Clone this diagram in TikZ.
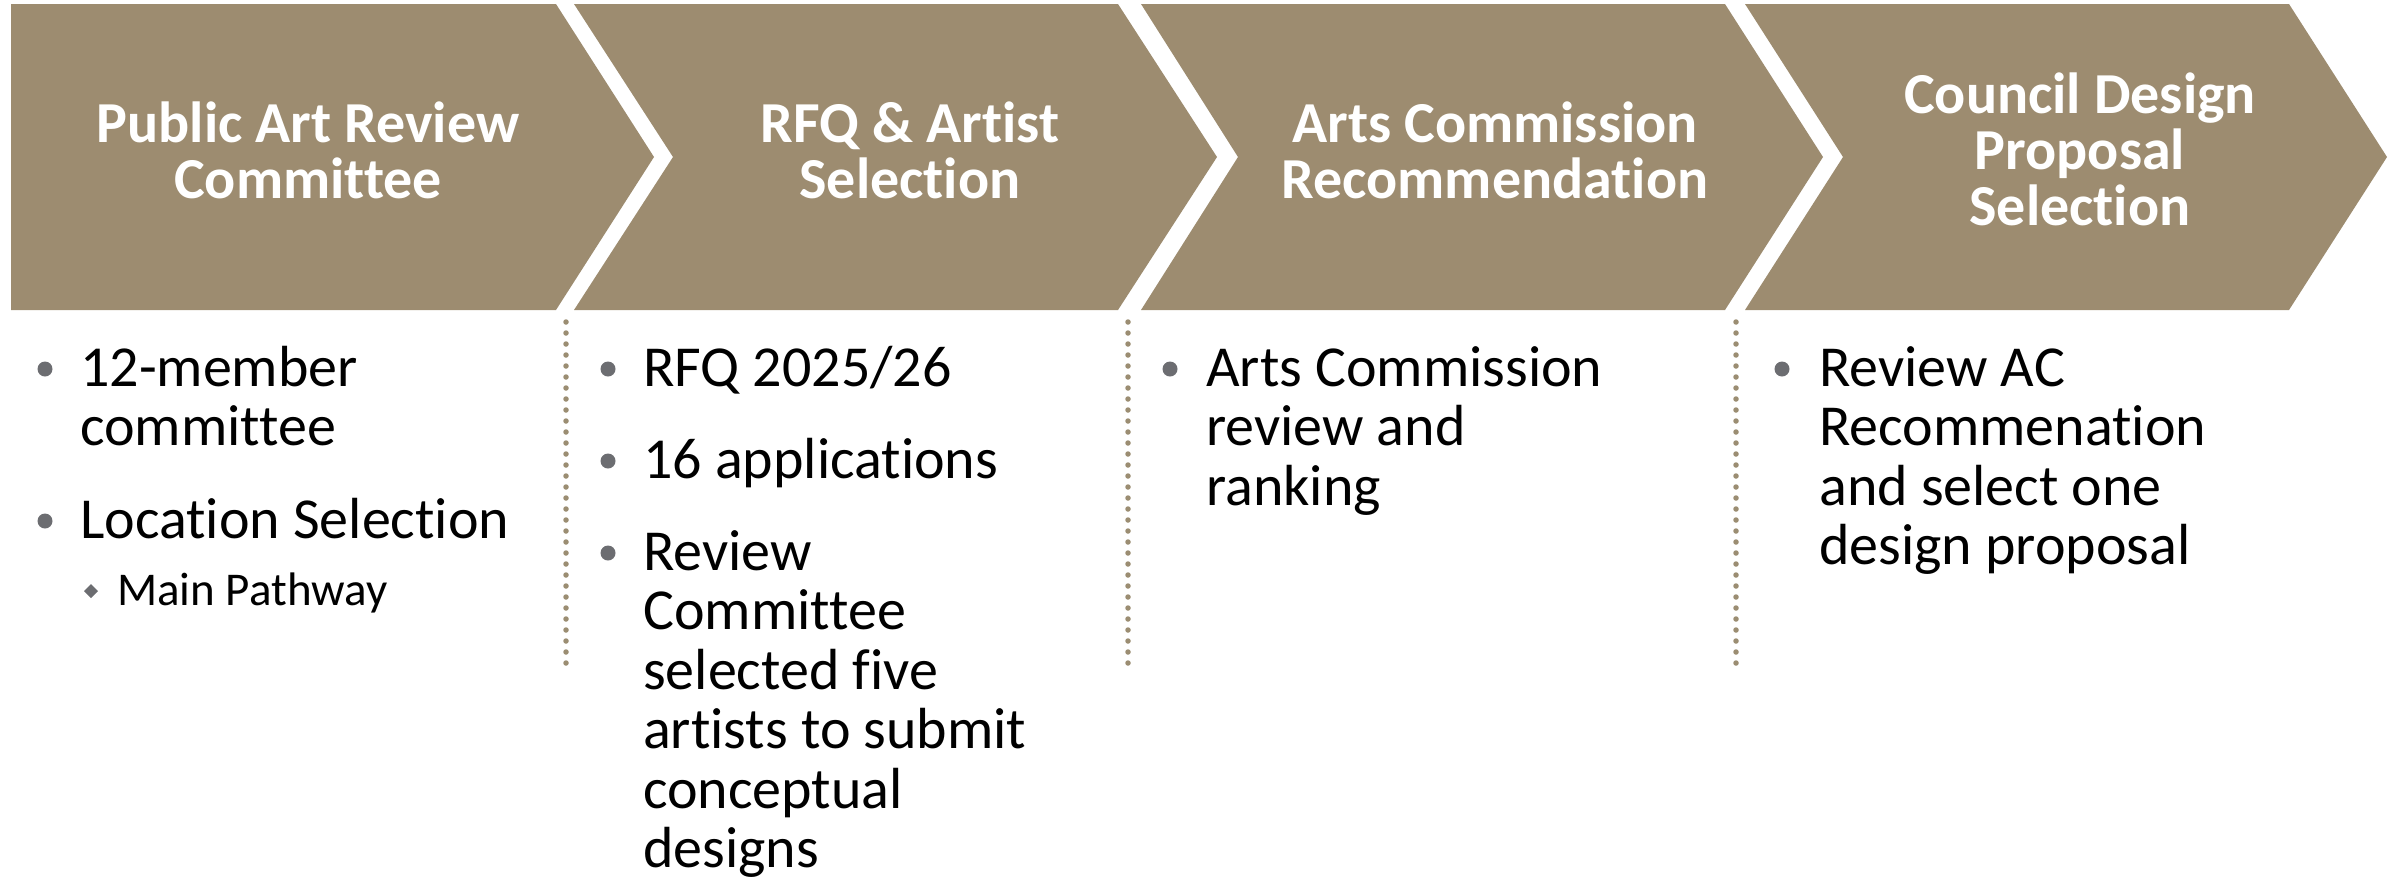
\documentclass[tikz,border=0pt]{standalone}
\usepackage{fontspec}
\setmainfont{Carlito}[Ligatures=NoCommon]
\definecolor{chev}{RGB}{157,140,112}
\definecolor{dotc}{RGB}{155,141,114}
\definecolor{bul}{RGB}{108,109,113}
\tikzset{
  chevron/.style={fill=chev, draw=none},
  head/.style={text=white, font=\fontsize{58}{57}\selectfont\bfseries, inner sep=0pt, anchor=base},
  body/.style={text=black, font=\fontsize{58}{59.5}\selectfont, inner sep=0pt, anchor=base west},
  subbody/.style={text=black, font=\fontsize{47}{50}\selectfont, inner sep=0pt, anchor=base west},
  bulletdot/.style={fill=bul, draw=none},
  sep/.style={draw=dotc, line width=5.5pt, line cap=round, dash pattern=on 0pt off 11pt}
}
\begin{document}
\begin{tikzpicture}[x=1pt,y=-1pt]
\useasboundingbox (0,0) rectangle (2394,879);
% chevrons
\fill[chevron] (11,4) -- (556,4) -- (654,157) -- (556,310) -- (11,310) -- cycle;
\fill[chevron] (574,4) -- (1118,4) -- (1217,157) -- (1118,310) -- (574,310) -- (673,157) -- cycle;
\fill[chevron] (1141,4) -- (1725,4) -- (1823,157) -- (1725,310) -- (1141,310) -- (1238,157) -- cycle;
\fill[chevron] (1745,4) -- (2289,4) -- (2387,157) -- (2289,310) -- (1745,310) -- (1843,157) -- cycle;
% headers
\node[head] (h1a) at (308,142) {Public Art Review};
\node[head] (h1b) at (308,198) {Committee};
\node[head] (h2a) at (910,142) {RFQ \& Artist};
\node[head] (h2b) at (910,198) {Selection};
\node[head] (h3a) at (1495,142) {Arts Commission};
\node[head] (h3b) at (1495,198) {Recommendation};
\node[head] (h4a) at (2080,113) {Council Design};
\node[head] (h4b) at (2080,169) {Proposal};
\node[head] (h4c) at (2080,225) {Selection};
% separators
\coordinate (s1t) at (566,322); \coordinate (s1b) at (566,666);
\coordinate (s2t) at (1128,322); \coordinate (s2b) at (1128,666);
\coordinate (s3t) at (1736,322); \coordinate (s3b) at (1736,666);
\draw[sep] (s1t) -- (s1b);
\draw[sep] (s2t) -- (s2b);
\draw[sep] (s3t) -- (s3b);
% column 1
\fill[bulletdot] (45,369) circle (7.5);
\fill[bulletdot] (45,521) circle (7.5);
\fill[bulletdot] (91,584) -- (98,591) -- (91,598) -- (84,591) -- cycle;
\node[body] (c1a) at (80,386) {12-member};
\node[body] (c1b) at (80,445.5) {committee};
\node[body] (c1c) at (80,538) {Location Selection};
\node[subbody] (c1d) at (117,605) {Main Pathway};
% column 2
\fill[bulletdot] (608,369) circle (7.5);
\fill[bulletdot] (608,461) circle (7.5);
\fill[bulletdot] (608,553) circle (7.5);
\node[body] (c2a) at (643,386) {RFQ 2025/26};
\node[body] (c2b) at (643,478) {16 applications};
\node[body] (c2c) at (643,570) {Review};
\node[body] (c2d) at (643,629.5) {Committee};
\node[body] (c2e) at (643,689) {selected five};
\node[body] (c2f) at (643,748.5) {artists to submit};
\node[body] (c2g) at (643,808) {conceptual};
\node[body] (c2h) at (643,867.5) {designs};
% column 3
\fill[bulletdot] (1170,369) circle (7.5);
\node[body] (c3a) at (1206,386) {Arts Commission};
\node[body] (c3b) at (1206,445.5) {review and};
\node[body] (c3c) at (1206,505) {ranking};
% column 4
\fill[bulletdot] (1782,369) circle (7.5);
\node[body] (c4a) at (1819,386) {Review AC};
\node[body] (c4b) at (1819,445.5) {Recommenation};
\node[body] (c4c) at (1819,505) {and select one};
\node[body] (c4d) at (1819,564.5) {design proposal};
\end{tikzpicture}
\end{document}
